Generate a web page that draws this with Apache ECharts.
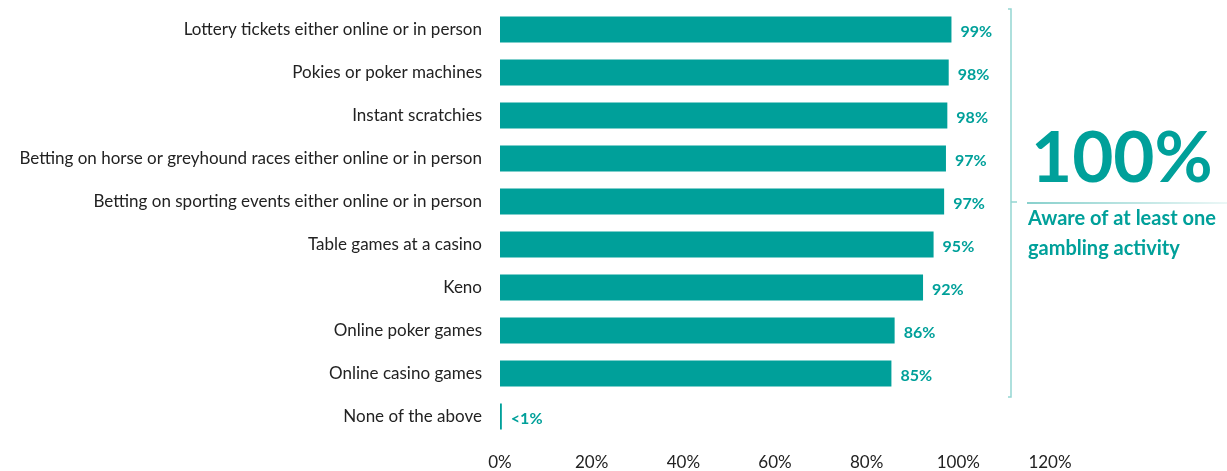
<!DOCTYPE html>
<html>
<head>
<meta charset="utf-8">
<script src="https://cdn.jsdelivr.net/npm/echarts@6/dist/echarts.min.js"></script>
<style>
html,body{margin:0;padding:0;background:#fff;}
#chart{width:1227px;height:471px;}
</style>
</head>
<body>
<div id="chart"></div>
<script>
// Awareness of gambling activities (% of respondents)
const categories = [
  'Lottery tickets either online or in person',
  'Pokies or poker machines',
  'Instant scratchies',
  'Betting on horse or greyhound races either online or in person',
  'Betting on sporting events either online or in person',
  'Table games at a casino',
  'Keno',
  'Online poker games',
  'Online casino games',
  'None of the above'
];
const awareness = [98.5, 97.9, 97.6, 97.3, 96.9, 94.6, 92.3, 86.1, 85.4, 0.4];
const valueLabels = ['99%', '98%', '98%', '97%', '97%', '95%', '92%', '86%', '85%', '<1%'];
const xTicks = [0, 20, 40, 60, 80, 100, 120];
const headline = '100%';
const headlineCaption = ['Aware of at least one', 'gambling activity'];

const TEAL = '#00a09a';
const LIGHT = '#94d6d2';
const FONT = 'Lato, "Open Sans", sans-serif';

const chart = echarts.init(document.getElementById('chart'));
chart.setOption({
  animation: false,
  grid: { left: 500, right: 177, top: 8, bottom: 33 },
  xAxis: {
    type: 'value', min: xTicks[0], max: xTicks[xTicks.length - 1], interval: 20,
    axisLine: { show: false }, axisTick: { show: false }, splitLine: { show: false },
    axisLabel: { formatter: v => v + '%', color: '#222', fontSize: 17, fontFamily: FONT, margin: 16 }
  },
  yAxis: {
    type: 'category', data: categories, inverse: true,
    axisLine: { show: false }, axisTick: { show: false },
    axisLabel: { color: '#222', fontSize: 17, fontFamily: FONT, margin: 18 }
  },
  series: [{
    type: 'bar', data: awareness, barWidth: 26,
    itemStyle: { color: TEAL },
    label: {
      show: true, position: 'right', distance: 9, offset: [0, 2],
      formatter: p => valueLabels[p.dataIndex],
      color: TEAL, fontWeight: 'bold', fontSize: 16, fontFamily: FONT
    }
  }],
  graphic: [
    { type: 'polyline', shape: { points: [[1008, 9], [1011, 9], [1011, 397], [1008, 397]] },
      style: { stroke: LIGHT, lineWidth: 1.5, fill: null } },
    { type: 'line', shape: { x1: 1011, y1: 202, x2: 1017, y2: 202 },
      style: { stroke: LIGHT, lineWidth: 1.5 } },
    { type: 'line', shape: { x1: 1027, y1: 203, x2: 1227, y2: 203 },
      style: { lineWidth: 1.5,
        stroke: new echarts.graphic.LinearGradient(0, 0, 1, 0, [
          { offset: 0, color: '#5fc0bb' }, { offset: 1, color: '#e6f5f4' }]) } },
    { type: 'text', left: 1031, top: 124,
      style: { text: headline, fill: TEAL, font: 'bold 71px ' + FONT } },
    { type: 'text', left: 1028, top: 204,
      style: { text: headlineCaption.join('\n'), fill: TEAL, font: 'bold 20px ' + FONT, lineHeight: 30 } }
  ]
});
</script>
</body>
</html>
